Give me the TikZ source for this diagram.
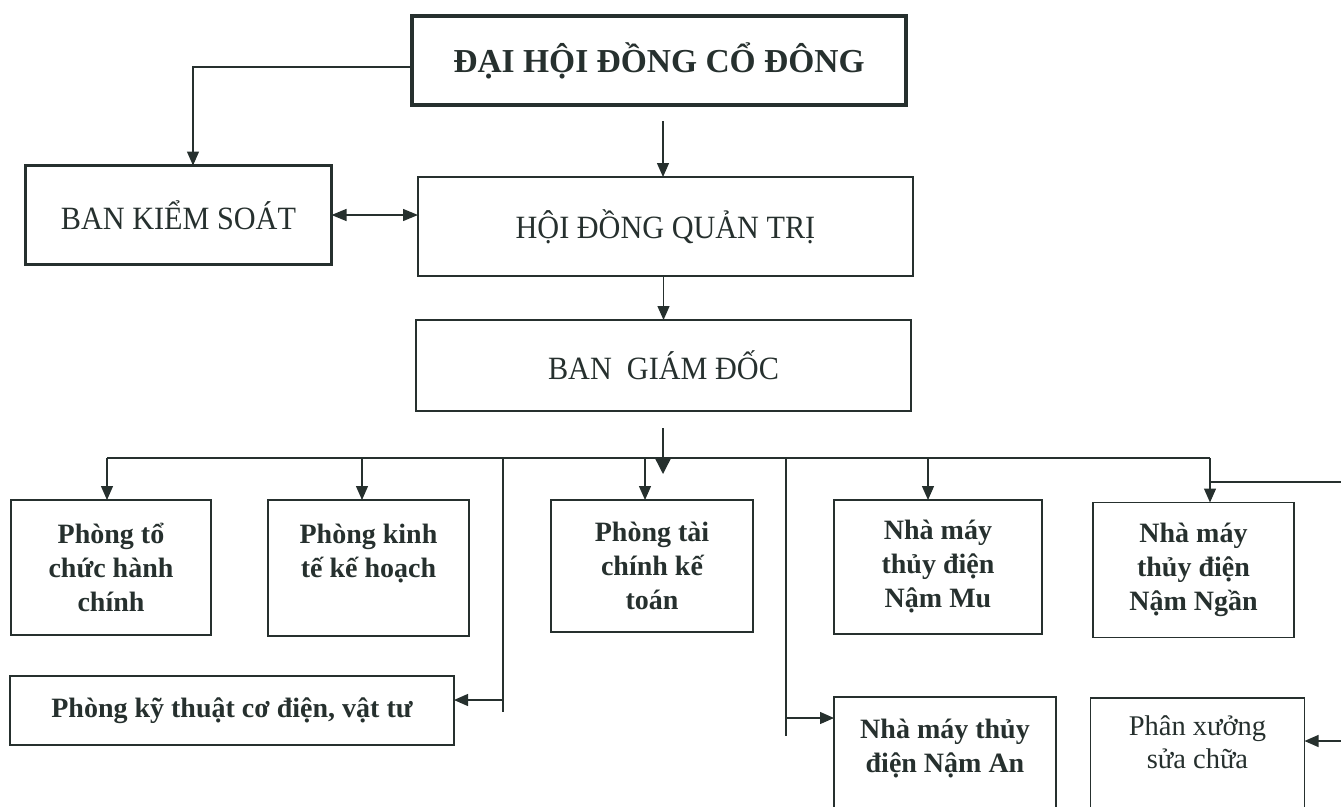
\documentclass[tikz,border=0pt]{standalone}
\usepackage{fontspec}
\setmainfont{Liberation Serif}
\newfontfamily\condserif[FakeStretch=0.93]{Liberation Serif}
\usetikzlibrary{arrows.meta}
\definecolor{ink}{RGB}{38,48,46}
\begin{document}
\begin{tikzpicture}[x=1pt,y=1pt,
  box/.style={draw=ink, text=ink, align=center, inner sep=0pt, outer sep=0pt},
  txt/.style={text=ink, align=center, inner sep=0pt},
  topfont/.style={font=\condserif\fontsize{32.5}{38}\selectfont},
  lowfont/.style={font=\bfseries\fontsize{28}{34}\selectfont},
  lowreg/.style={font=\fontsize{28.5}{33}\selectfont},
  conn/.style={draw=ink, line width=1.3pt},
  arr/.style={conn, -{Triangle[length=14pt,width=12pt]}},
  bigarr/.style={conn, -{Triangle[length=15pt,width=15pt]}},
  darr/.style={conn, {Triangle[length=15pt,width=12pt]}-{Triangle[length=15pt,width=12pt]}},
]
\useasboundingbox (0,0) rectangle (1341,-806);

% top level
\node[box, line width=3.6pt, minimum width=494pt, minimum height=89pt,
      font=\bfseries\fontsize{33.5}{38}\selectfont] (dh) at (659,-60.5) {ĐẠI HỘI ĐỒNG CỔ ĐÔNG};
\node[box, topfont, line width=3.2pt, minimum width=306pt, minimum height=99pt] (bks) at (178.5,-215) {BAN KIỂM SOÁT};
\node[box, topfont, line width=2.4pt, minimum width=495pt, minimum height=99pt] (hdqt) at (665.5,-226.5) {HỘI ĐỒNG QUẢN TRỊ};
\node[box, topfont, line width=2.4pt, minimum width=495pt, minimum height=91pt] (bgd) at (663.5,-365.5) {BAN~~GIÁM ĐỐC};

% lower row
\node[box, lowfont, line width=1.8pt, minimum width=200pt, minimum height=135pt] (p1) at (111,-567.5) {Phòng tổ\\chức hành\\chính};
\node[box, lowfont, line width=1.8pt, minimum width=201pt, minimum height=136pt] (p2) at (368.5,-568) {Phòng kinh\\tế kế hoạch\\~};
\node[box, lowfont, line width=1.8pt, minimum width=202pt, minimum height=132pt] (p3) at (652,-566) {Phòng tài\\chính kế\\toán};
\node[box, lowfont, line width=1.8pt, minimum width=208pt, minimum height=134pt] (nm1) at (938,-567) {Nhà máy\\thủy điện\\Nậm Mu};
\node[box, lowfont, line width=1.8pt, minimum width=201pt, minimum height=135pt] (nm2) at (1193.5,-570) {Nhà máy\\thủy điện\\Nậm Ngần};
\node[box, lowfont, line width=1.8pt, minimum width=444pt, minimum height=69pt] (pkt) at (232,-710.5) {Phòng kỹ thuật cơ điện, vật tư};

% bottom boxes (cut off by page edge)
\node[box, line width=1.8pt, minimum width=222pt, minimum height=133pt] (nma) at (945,-763.5) {};
\node[txt, lowfont] (nmat) at (945,-749) {Nhà máy thủy\\điện Nậm An};
\node[box, line width=1.3pt, minimum width=214pt, minimum height=132pt] (px) at (1197.5,-764) {};
\node[txt, lowreg] (pxt) at (1197.5,-742) {Phân xưởng\\sửa chữa};

% connectors
\draw[arr] ([yshift=-6.5pt]dh.west) -| ([xshift=14.5pt]bks.north);
\coordinate (a1) at (663,-121);
\draw[arr] (a1) -- (a1 |- hdqt.north);
\draw[darr] (bks.east) -- (bks.east -| hdqt.west);
\draw[arr] (bgd.north |- hdqt.south) -- (bgd.north);

\coordinate (b0) at (663,-428);
\coordinate (b1) at (663,-474);
\draw[bigarr] (b0) -- (b1);

\coordinate (busL) at (107,-458);
\coordinate (busR) at (1210,-458);
\draw[conn] (busL) -- (busR);
\draw[arr] (busL) -- (busL |- p1.north);
\coordinate (d2) at (362,-458);
\draw[arr] (d2) -- (d2 |- p2.north);
\coordinate (d3) at (645,-458);
\draw[arr] (d3) -- (d3 |- p3.north);
\coordinate (d4) at (928,-458);
\draw[arr] (d4) -- (d4 |- nm1.north);
\draw[arr] (busR) -- (busR |- nm2.north);

\coordinate (v1t) at (503,-458);
\coordinate (v1b) at (503,-712);
\draw[conn] (v1t) -- (v1b);
\coordinate (v1a) at (503,-700);
\draw[arr] (v1a) -- (v1a -| pkt.east);

\coordinate (v2t) at (786,-458);
\coordinate (v2b) at (786,-736);
\draw[conn] (v2t) -- (v2b);
\coordinate (v2a) at (786,-718);
\draw[arr] (v2a) -- (v2a -| nma.west);

\coordinate (r0) at (1210,-482);
\coordinate (r1) at (1347,-482);
\coordinate (r2) at (1347,-741);
\draw[arr] (r0) -- (r1) -- (r2) -- (r2 -| px.east);
\end{tikzpicture}
\end{document}
